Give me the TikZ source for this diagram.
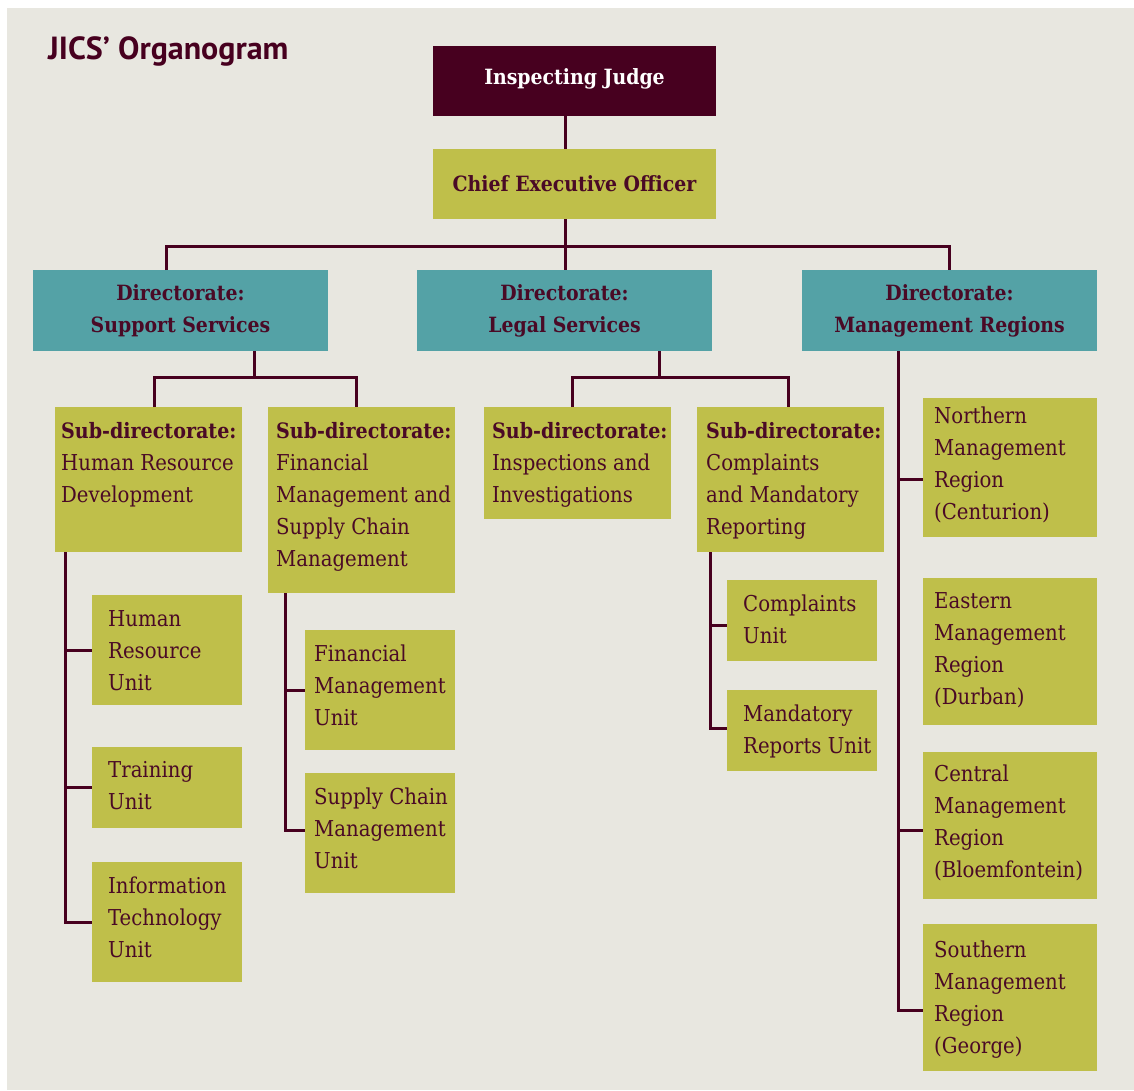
\documentclass[tikz,border=0pt]{standalone}
\usepackage{fontspec}
\setmainfont{DejaVu Serif Condensed}
\newfontfamily\titlefont{PT Sans}
\definecolor{bgc}{HTML}{E8E7E0}
\definecolor{maroonc}{HTML}{47001F}
\definecolor{textc}{HTML}{4A0A26}
\definecolor{olivec}{HTML}{BFBF4A}
\definecolor{tealc}{HTML}{54A2A6}
\newcommand\subdir{{\bfseries\fontsize{21.2}{32}\selectfont Sub-directorate:}}
\begin{document}
\begin{tikzpicture}[x=1pt,y=-1pt,
  bx/.style={anchor=north west,inner sep=0pt,outer sep=0pt,draw=none},
  olivebox/.style={bx,fill=olivec},
  tealbox/.style={bx,fill=tealc},
  txt/.style={anchor=north west,inner sep=0pt,align=left,text=textc,font=\fontsize{21.9}{32}\selectfont},
  ctxt/.style={anchor=center,inner sep=0pt,align=center,text=textc,font=\bfseries\fontsize{21}{32}\selectfont},
  conn/.style={draw=maroonc,line width=3pt}]
\useasboundingbox (0,0) rectangle (1134,1090);
\fill[white] (0,0) rectangle (1134,1090);
\fill[bgc] (7,8) rectangle (1134,1090);

\node[anchor=base west,inner sep=0pt,text=maroonc,font=\titlefont\bfseries\fontsize{32}{38}\selectfont] (title) at (48,59.5) {JICS’ Organogram};

% boxes
\node[bx,fill=maroonc,minimum width=283pt,minimum height=70pt] (ij) at (433,46) {};
\node[olivebox,minimum width=283pt,minimum height=70pt] (ceo) at (433,149) {};
\node[tealbox,minimum width=295pt,minimum height=81pt] (dss) at (33,270) {};
\node[tealbox,minimum width=295pt,minimum height=81pt] (dls) at (417,270) {};
\node[tealbox,minimum width=295pt,minimum height=81pt] (dmr) at (802,270) {};
\node[olivebox,minimum width=187pt,minimum height=145pt] (hrd) at (55,407) {};
\node[olivebox,minimum width=187pt,minimum height=186pt] (fin) at (268,407) {};
\node[olivebox,minimum width=187pt,minimum height=112pt] (ins) at (484,407) {};
\node[olivebox,minimum width=187pt,minimum height=145pt] (cmp) at (697,407) {};
\node[olivebox,minimum width=150pt,minimum height=110pt] (hru) at (92,595) {};
\node[olivebox,minimum width=150pt,minimum height=81pt] (tru) at (92,747) {};
\node[olivebox,minimum width=150pt,minimum height=120pt] (itu) at (92,862) {};
\node[olivebox,minimum width=150pt,minimum height=120pt] (fmu) at (305,630) {};
\node[olivebox,minimum width=150pt,minimum height=120pt] (scu) at (305,773) {};
\node[olivebox,minimum width=150pt,minimum height=81pt] (cpu) at (727,580) {};
\node[olivebox,minimum width=150pt,minimum height=81pt] (mru) at (727,690) {};
\node[olivebox,minimum width=174pt,minimum height=139pt] (nmr) at (923,398) {};
\node[olivebox,minimum width=174pt,minimum height=147pt] (emr) at (923,578) {};
\node[olivebox,minimum width=174pt,minimum height=147pt] (cmr) at (923,752) {};
\node[olivebox,minimum width=174pt,minimum height=147pt] (smr) at (923,924) {};

% texts
\node[ctxt,text=white] (ij-t) at ([yshift=2pt]ij.center) {Inspecting Judge};
\node[ctxt] (ceo-t) at (ceo.center) {Chief Executive Officer};
\node[ctxt] (dss-t) at (dss.center) {Directorate:\\Support Services};
\node[ctxt] (dls-t) at (dls.center) {Directorate:\\Legal Services};
\node[ctxt] (dmr-t) at (dmr.center) {Directorate:\\Management Regions};
\node[txt] (hrd-t) at (61,422.5) {\subdir\\Human Resource\\Development};
\node[txt] (fin-t) at (276,422.5) {\subdir\\Financial\\Management and\\Supply Chain\\Management};
\node[txt] (ins-t) at (492,422.5) {\subdir\\Inspections and\\Investigations};
\node[txt] (cmp-t) at (706,422.5) {\subdir\\Complaints\\and Mandatory\\Reporting};
\node[txt] (hru-t) at (108,610) {Human\\Resource\\Unit};
\node[txt] (tru-t) at (108,761) {Training\\Unit};
\node[txt] (itu-t) at (108,877) {Information\\Technology\\Unit};
\node[txt] (fmu-t) at (314,645) {Financial\\Management\\Unit};
\node[txt] (scu-t) at (314,788) {Supply Chain\\Management\\Unit};
\node[txt] (cpu-t) at (743,595) {Complaints\\Unit};
\node[txt] (mru-t) at (743,705) {Mandatory\\Reports Unit};
\node[txt] (nmr-t) at (934,407) {Northern\\Management\\Region\\(Centurion)};
\node[txt] (emr-t) at (934,592) {Eastern\\Management\\Region\\(Durban)};
\node[txt] (cmr-t) at (934,765) {Central\\Management\\Region\\(Bloemfontein)};
\node[txt] (smr-t) at (934,941) {Southern\\Management\\Region\\(George)};

% connectors
\coordinate (cbus) at (565,246);
\coordinate (sbus) at (254,377);
\coordinate (lbus) at (659,377);
\draw[conn] ([xshift=132pt]ij.south west) -- ([xshift=132pt]ceo.north west);
\draw[conn] ([xshift=132pt]ceo.south west) -- (cbus);
\draw[conn] ([xshift=133pt]dss.north west) |- (cbus) -| ([xshift=147pt]dmr.north west);
\draw[conn] (cbus) -- ([xshift=148pt]dls.north west);
\draw[conn] ([xshift=221pt]dss.south west) -- (sbus);
\draw[conn] ([xshift=99pt]hrd.north west) |- (sbus) -| ([xshift=88pt]fin.north west);
\draw[conn] ([xshift=242pt]dls.south west) -- (lbus);
\draw[conn] ([xshift=88pt]ins.north west) |- (lbus) -| ([xshift=91pt]cmp.north west);
% HRD units
\coordinate (hv) at ([xshift=10pt]hrd.south west);
\draw[conn] (hv) |- (itu.west);
\draw[conn] (hru.west -| hv) -- (hru.west);
\draw[conn] (tru.west -| hv) -- (tru.west);
% Fin units
\coordinate (fv) at ([xshift=17pt]fin.south west);
\draw[conn] (fv) |- ([yshift=3pt]scu.west);
\draw[conn] (fmu.west -| fv) -- (fmu.west);
% Complaints units
\coordinate (kv) at ([xshift=13pt]cmp.south west);
\draw[conn] (kv) |- ([yshift=2pt]mru.west);
\draw[conn] ([yshift=-4.5pt]cpu.west -| kv) -- ([yshift=-4.5pt]cpu.west);
% Management regions
\coordinate (mv) at ([xshift=96pt]dmr.south west);
\draw[conn] (mv) |- ([yshift=-12.5pt]smr.west);
\draw[conn] ([yshift=-11.5pt]nmr.west -| mv) -- ([yshift=-11.5pt]nmr.west);
\draw[conn] ([yshift=-4.5pt]cmr.west -| mv) -- ([yshift=-4.5pt]cmr.west);
\end{tikzpicture}
\end{document}
